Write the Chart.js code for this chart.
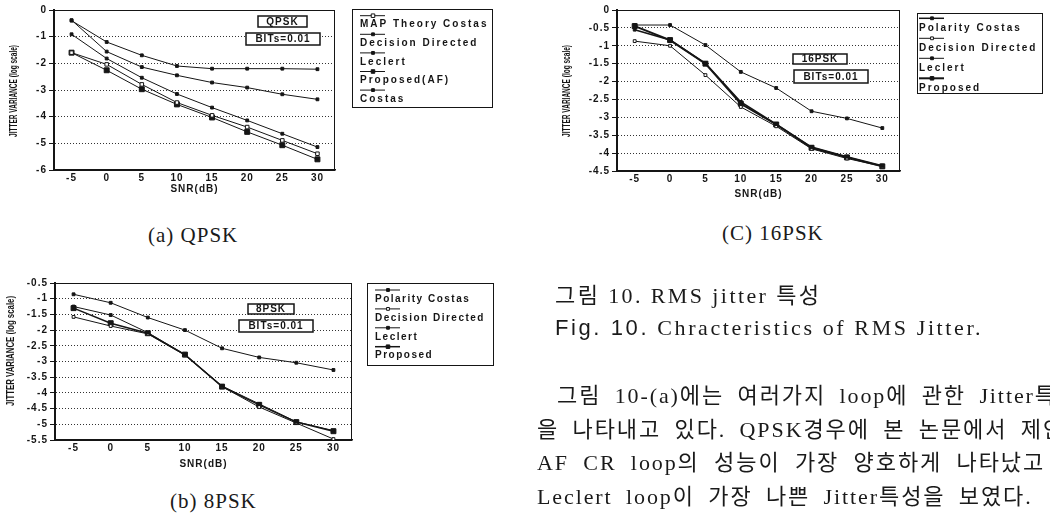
<!DOCTYPE html>
<html>
<head>
<meta charset="utf-8">
<script src="https://cdn.jsdelivr.net/npm/chart.js@4.4.1/dist/chart.umd.min.js"></script>
<style>
html, body { margin: 0; padding: 0; background: #fff; width: 1050px; height: 518px; overflow: hidden; }
body { position: relative; }
canvas { position: absolute; }
.cap { position: absolute; font-family: "Liberation Serif", serif; font-size: 21px; color: #1a1a1a; white-space: nowrap; letter-spacing: 1px; }
.txt { position: absolute; left: 0; width: 1050px; overflow: hidden; white-space: nowrap;
       font-family: "Liberation Serif", "Noto Sans CJK KR", serif; font-size: 22px; line-height: 26px; color: #1a1a1a; }
.sans { font-family: "Liberation Sans", sans-serif; }
</style>
</head>
<body>
<canvas id="chartA" width="500" height="195" style="left:0;top:0"></canvas>
<canvas id="chartB" width="500" height="200" style="left:0;top:270px"></canvas>
<canvas id="chartC" width="500" height="200" style="left:550px;top:0"></canvas>

<div class="cap" style="left:148px;top:223px">(a) QPSK</div>
<div class="cap" style="left:722px;top:221px">(C) 16PSK</div>
<div class="cap" style="left:170px;top:489px">(b) 8PSK</div>

<div class="txt" style="top:283px;letter-spacing:2.4px"><span style="padding-left:555px">그림 10. RMS jitter 특성</span></div>
<div class="txt" style="top:315px;letter-spacing:2.6px"><span style="padding-left:555px"><span class="sans">Fig. 10.</span> Chracteristics of RMS Jitter.</span></div>
<div class="txt" style="top:383px;letter-spacing:1.9px;word-spacing:6px"><span style="padding-left:557px">그림 10-(a)에는 여러가지 loop에 관한 Jitter특성</span></div>
<div class="txt" style="top:417px;letter-spacing:1.9px;word-spacing:6px"><span style="padding-left:537px">을 나타내고 있다. QPSK경우에 본 논문에서 제안한</span></div>
<div class="txt" style="top:450px;letter-spacing:1.9px;word-spacing:7px"><span style="padding-left:537px">AF CR loop의 성능이 가장 양호하게 나타났고</span></div>
<div class="txt" style="top:484px;letter-spacing:1.9px;word-spacing:6px"><span style="padding-left:537px">Leclert loop이 가장 나쁜 Jitter특성을 보였다.</span></div>

<script>
// x축 SNR(dB)
const snr = ['-5', '0', '5', '10', '15', '20', '25', '30'];

// (a) QPSK
const qpskMap = [-1.6, -2.04, -2.79, -3.47, -3.95, -4.39, -4.89, -5.39];
const qpskDD = [-0.91, -1.82, -2.54, -3.15, -3.66, -4.14, -4.64, -5.14];
const qpskLeclert = [-0.4, -1.2, -1.7, -2.1, -2.2, -2.2, -2.2, -2.22];
const qpskProposed = [-1.6, -2.26, -2.97, -3.54, -4.03, -4.57, -5.07, -5.6];
const qpskCostas = [-0.38, -1.56, -2.14, -2.45, -2.72, -2.91, -3.16, -3.35];

// (b) 8PSK
const psk8Polarity = [-1.25, -1.52, -2.08, -2.78, -3.78, -4.35, -4.92, -5.2];
const psk8DD = [-1.58, -1.87, -2.12, -2.8, -3.8, -4.45, -4.96, -5.47];
const psk8Leclert = [-0.86, -1.13, -1.6, -2.0, -2.58, -2.87, -3.04, -3.27];
const psk8Proposed = [-1.3, -1.78, -2.1, -2.78, -3.8, -4.38, -4.93, -5.22];

// (c) 16PSK
const psk16Polarity = [-0.55, -0.84, -1.49, -2.57, -3.19, -3.83, -4.1, -4.35];
const psk16DD = [-0.87, -1.0, -1.82, -2.71, -3.25, -3.88, -4.15, -4.37];
const psk16Leclert = [-0.42, -0.42, -0.98, -1.73, -2.18, -2.83, -3.03, -3.3];
const psk16Proposed = [-0.45, -0.84, -1.5, -2.62, -3.2, -3.85, -4.12, -4.37];

const ink = '#151515';
const FONT = '"Liberation Sans", Arial, sans-serif';

function ds(label, data, style, r, w, fill) {
    return {
        label: label, data: data,
        borderColor: ink, borderWidth: w || 1, tension: 0,
        pointStyle: style, pointRadius: r, pointBorderWidth: 1,
        pointBorderColor: ink, pointBackgroundColor: fill || ink
    };
}

// Rahmen, Achsentitel, Kästchen und Legende zeichnen
const paper = {
    id: 'paper',
    beforeDraw(chart) { chart.ctx.letterSpacing = '1px'; },
    afterDraw(chart, args, o) {
        const ctx = chart.ctx, a = chart.chartArea;
        ctx.save();
        ctx.strokeStyle = ink;
        ctx.fillStyle = ink;
        ctx.lineWidth = 1;
        ctx.strokeRect(a.left + 0.5, a.top + 0.5, a.right - a.left - 1, a.bottom - a.top);

        // y title, condensed
        ctx.save();
        ctx.font = 'bold 10px ' + FONT;
        ctx.letterSpacing = '0px';
        const t = 'JITTER VARIANCE (log scale)';
        const tw = ctx.measureText(t).width;
        ctx.translate(o.ytitle.x, o.ytitle.y);
        ctx.rotate(-Math.PI / 2);
        ctx.scale(o.ytitle.len / tw, 1);
        ctx.textAlign = 'center';
        ctx.textBaseline = 'middle';
        ctx.fillText(t, 0, 0);
        ctx.restore();

        // QPSK / BITs boxes
        ctx.font = 'bold 10px ' + FONT;
        ctx.textBaseline = 'middle';
        ctx.textAlign = 'center';
        ctx.lineWidth = 1.5;
        o.tags.forEach(g => {
            ctx.fillStyle = '#fff';
            ctx.fillRect(g.x, g.y, g.w, g.h);
            ctx.fillStyle = ink;
            ctx.strokeRect(g.x, g.y, g.w, g.h);
            ctx.fillText(g.text, g.x + g.w / 2, g.y + g.h / 2 + 0.5);
        });

        // legend: sample line above text
        const L = o.legend;
        ctx.lineWidth = 1;
        ctx.strokeRect(L.x + 0.5, L.y + 0.5, L.w, L.h);
        ctx.textAlign = 'left';
        ctx.letterSpacing = L.ls;
        ctx.font = 'bold ' + L.size + 'px ' + FONT;
        chart.data.datasets.forEach((d, i) => {
            const y = L.y0 + i * L.step;
            ctx.strokeStyle = ink;
            ctx.lineWidth = d.borderWidth;
            ctx.beginPath();
            ctx.moveTo(L.tx, y);
            ctx.lineTo(L.tx + 25, y);
            ctx.stroke();
            ctx.fillStyle = d.pointBackgroundColor;
            ctx.lineWidth = 1;
            Chart.helpers.drawPoint(ctx, { pointStyle: d.pointStyle, radius: Math.min(d.pointRadius, 2.5), rotation: 0, borderWidth: 1 }, L.tx + 13, y);
            ctx.fillStyle = ink;
            ctx.fillText(d.label, L.tx, y + L.dy);
        });
        ctx.restore();
    }
};

function makeChart(id, sets, yMin, yMax, step, lay) {
    return new Chart(id, {
        type: 'line',
        data: { labels: snr, datasets: sets },
        options: {
            responsive: false,
            animation: false,
            layout: { padding: { top: lay.top, right: lay.right, left: 0, bottom: 0 } },
            plugins: { legend: { display: false }, tooltip: { enabled: false }, paper: lay },
            scales: {
                x: {
                    offset: true,
                    grid: { display: false, drawTicks: false },
                    border: { color: ink, width: 1.5 },
                    ticks: { color: ink, padding: 2, maxRotation: 0, autoSkip: false, font: { family: FONT, size: 10, weight: 'bold' } },
                    title: { display: true, text: 'SNR(dB)', color: ink, padding: { top: 0, bottom: 0 }, font: { family: FONT, size: 10, weight: 'bold' } },
                    afterFit(s) { s.height = lay.xh; }
                },
                y: {
                    min: yMin, max: yMax,
                    grid: { color: '#333', lineWidth: 1, tickLength: 5, tickColor: ink, tickBorderDash: [] },
                    border: { color: ink, width: 2, dash: [1, 2] },
                    ticks: { stepSize: step, color: ink, padding: 2, callback: v => String(v), font: { family: FONT, size: 10, weight: 'bold' } },
                    afterFit(s) { s.width = lay.yw; }
                }
            }
        },
        plugins: [paper]
    });
}

makeChart('chartA', [
    ds('MAP Theory Costas', qpskMap, 'rect', 2.5, 1, '#fff'),
    ds('Decision Directed', qpskDD, 'rect', 2),
    ds('Leclert', qpskLeclert, 'rect', 2),
    ds('Proposed(AF)', qpskProposed, 'rect', 3.5),
    ds('Costas', qpskCostas, 'rect', 2)
], -6, 0, 1, {
    top: 10, right: 165, yw: 54, xh: 25,
    ytitle: { x: 14, y: 91, len: 92 },
    tags: [{ text: 'QPSK', x: 258, y: 16, w: 49, h: 11 }, { text: 'BITs=0.01', x: 246, y: 33, w: 74, h: 12 }],
    legend: { x: 352, y: 9, w: 140, h: 98, tx: 360, y0: 15.7, step: 18.6, dy: 9, size: 10, ls: '2px' }
});

makeChart('chartB', [
    ds('Polarity Costas', psk8Polarity, 'rect', 2),
    ds('Decision Directed', psk8DD, 'rect', 2, 1, '#fff'),
    ds('Leclert', psk8Leclert, 'rect', 2),
    ds('Proposed', psk8Proposed, 'rect', 3.5, 1.5)
], -5.5, -0.5, 0.5, {
    top: 13, right: 148, yw: 55, xh: 30,
    ytitle: { x: 11, y: 81, len: 110 },
    tags: [{ text: '8PSK', x: 248, y: 34, w: 46, h: 10 }, { text: 'BITs=0.01', x: 239, y: 50, w: 74, h: 12 }],
    legend: { x: 367, y: 13, w: 126, h: 82, tx: 375, y0: 20, step: 18.9, dy: 9, size: 10, ls: '1.5px' }
});

makeChart('chartC', [
    ds('Polarity Costas', psk16Polarity, 'rect', 2, 1.5),
    ds('Decision Directed', psk16DD, 'rect', 2, 1, '#fff'),
    ds('Leclert', psk16Leclert, 'rect', 2),
    ds('Proposed', psk16Proposed, 'rect', 3.5, 2)
], -4.5, 0, 0.5, {
    top: 10, right: 150, yw: 67, xh: 29,
    ytitle: { x: 17, y: 91, len: 92 },
    tags: [{ text: '16PSK', x: 243, y: 54, w: 54, h: 10 }, { text: 'BITs=0.01', x: 244, y: 70, w: 74, h: 13 }],
    legend: { x: 367, y: 13, w: 125, h: 80, tx: 369, y0: 18.3, step: 20, dy: 10, size: 10, ls: '2px' }
});
</script>
</body>
</html>
